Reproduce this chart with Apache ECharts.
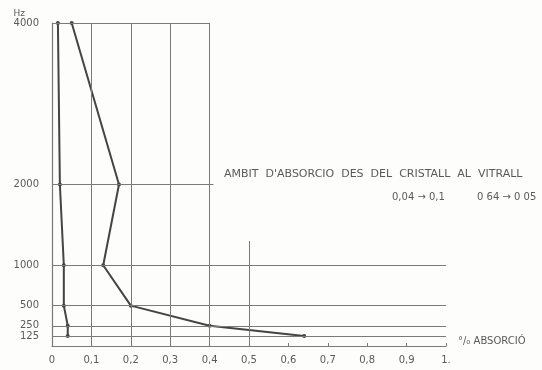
<!DOCTYPE html>
<html>
<head>
<meta charset="utf-8">
<script src="https://cdn.jsdelivr.net/npm/echarts@6/dist/echarts.min.js"></script>
<style>
  html, body { margin: 0; padding: 0; background: #fdfdfc; }
  #chart { width: 542px; height: 370px; }
</style>
</head>
<body>
<div id="chart"></div>
<script>
// Frequencies (Hz) on the vertical axis
const freqs = [125, 250, 500, 1000, 2000, 4000];
// Absorption coefficient per frequency
const cristall = [0.04, 0.04, 0.03, 0.03, 0.02, 0.015];
const vitrall = [0.64, 0.4, 0.2, 0.13, 0.17, 0.05];
// Tick labels on the absorption axis
const xTicks = [0, 0.1, 0.2, 0.3, 0.4, 0.5, 0.6, 0.7, 0.8, 0.9, 1];
const xTickLabels = ['0', '0,1', '0,2', '0,3', '0,4', '0,5', '0,6', '0,7', '0,8', '0,9', '1.'];
// Horizontal guide lines: [Hz, extent on absorption axis]
const hLines = [[4000, 0.4], [2000, 0.41], [1000, 1], [500, 1], [250, 1], [125, 1]];
// Vertical guide lines: [absorption, top in Hz]
const vLines = [[0.1, 4000], [0.2, 4000], [0.3, 4000], [0.4, 4000], [0.5, 1300]];

const ink = '#444';
const gridInk = '#7a7a7a';
const textInk = '#5a5a5a';
const font = 'DejaVu Sans, sans-serif';

const chart = echarts.init(document.getElementById('chart'));

const guideLines = [];
hLines.forEach(([f, x]) => guideLines.push([{ coord: [0, f] }, { coord: [x, f] }]));
vLines.forEach(([x, f]) => guideLines.push([{ coord: [x, 0] }, { coord: [x, f] }]));

chart.setOption({
  backgroundColor: '#fdfdfc',
  animation: false,
  grid: { left: 52, right: 96, top: 23, bottom: 24 },
  xAxis: {
    type: 'value', min: 0, max: 1, interval: 0.1,
    splitLine: { show: false },
    axisLine: { lineStyle: { color: gridInk, width: 1.2 } },
    axisTick: { inside: true, length: 3, lineStyle: { color: gridInk } },
    axisLabel: {
      color: textInk, fontFamily: font, fontSize: 10, margin: 9,
      formatter: v => {
        const i = xTicks.findIndex(t => Math.abs(t - v) < 1e-6);
        return i >= 0 ? xTickLabels[i] : '';
      }
    }
  },
  yAxis: {
    type: 'value', min: 0, max: 4000,
    name: 'Hz', nameLocation: 'end', nameGap: 5,
    nameTextStyle: { color: textInk, fontFamily: font, fontSize: 9, align: 'right', padding: [0, 27, 0, 0] },
    splitLine: { show: false },
    axisLine: { lineStyle: { color: gridInk, width: 1.2 } },
    axisTick: { show: false },
    axisLabel: {
      customValues: freqs,
      formatter: v => String(v),
      color: textInk, fontFamily: font, fontSize: 10, margin: 13
    }
  },
  series: [
    {
      type: 'line',
      data: freqs.map((f, i) => [cristall[i], f]),
      symbol: 'circle', symbolSize: 4,
      lineStyle: { color: ink, width: 2 },
      itemStyle: { color: ink },
      z: 3,
      markLine: {
        silent: true, symbol: 'none',
        label: { show: false },
        lineStyle: { color: gridInk, width: 1, type: 'solid' },
        data: guideLines
      }
    },
    {
      type: 'line',
      data: freqs.map((f, i) => [vitrall[i], f]),
      symbol: 'circle', symbolSize: 4,
      lineStyle: { color: ink, width: 2 },
      itemStyle: { color: ink },
      z: 3
    }
  ],
  graphic: [
    { type: 'text', left: 224, top: 169, style: { text: "AMBIT  D'ABSORCIO  DES  DEL  CRISTALL  AL  VITRALL", fill: textInk, font: '11px ' + font } },
    { type: 'text', left: 392, top: 192, style: { text: '0,04 → 0,1', fill: textInk, font: '10px ' + font } },
    { type: 'text', left: 477, top: 192, style: { text: '0 64 → 0 05', fill: textInk, font: '10px ' + font } },
    { type: 'text', left: 458, top: 336, style: { text: '°/₀ ABSORCIÓ', fill: textInk, font: '10px ' + font } }
  ]
});
</script>
</body>
</html>
